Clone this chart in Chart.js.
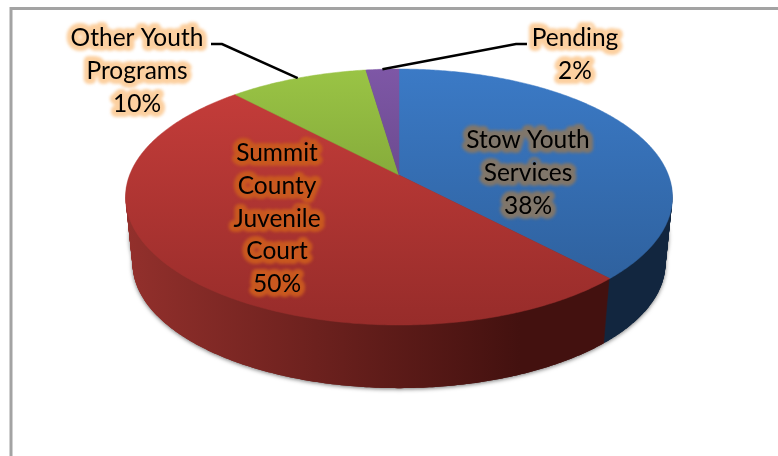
<!DOCTYPE html>
<html>
<head>
<meta charset="utf-8">
<script src="https://cdn.jsdelivr.net/npm/chart.js@4"></script>
<style>
  html, body { margin: 0; background: #fff; }
  canvas { display: block; }
</style>
</head>
<body>
<canvas id="chart" width="778" height="456"></canvas>
<script>
const categories = ['Stow Youth Services', 'Summit County Juvenile Court', 'Other Youth Programs', 'Pending'];
const shares = [38, 50, 9.7, 2.3];
const labelLines = [
  ['Stow Youth', 'Services', '38%'],
  ['Summit', 'County', 'Juvenile', 'Court', '50%'],
  ['Other Youth', 'Programs', '10%'],
  ['Pending', '2%']
];

// gradient stops for the top face (back to front) and the side wall (left to right)
const topColours = [
  ['#3b7aC6', '#2c5c96'],
  ['#c83e3b', '#972c2a'],
  ['#9ac445', '#6a8a2d'],
  ['#7e57a6', '#523a70']
];
const wallColours = [
  ['#12263f', '#12263f'],
  ['#93302c', '#43110f'],
  ['#4c6120', '#4c6120'],
  ['#3a2850', '#3a2850']
];
const haloColours = ['#80766a', '#c9581f', '#fcd0a0', '#fcd0a0'];

// where each label block is centred, and the elbow of its leader line if it has one
const labelBoxes = [
  { x: 528, y: 140 },
  { x: 277, y: 153 },
  { x: 137, y: 38 },
  { x: 575, y: 38 }
];
const leaderElbows = [null, null, [[222, 44], [211, 44]], [[516, 44], [527, 44]]];

// perspective of the pie: the disc is a plane seen from above, so it stays a projected circle
const topRing = { x: 399, y: 175, a: 124.2, b: 269.4, k: 0.172 };
const bottomRing = { x: 399, y: 242, a: 121, b: 262.5, k: 0.172 };

function ringAt(t) {
  return {
    x: topRing.x,
    y: topRing.y + (bottomRing.y - topRing.y) * t,
    a: topRing.a + (bottomRing.a - topRing.a) * t,
    b: topRing.b + (bottomRing.b - topRing.b) * t,
    k: topRing.k
  };
}

function project(ring, angle) {
  const u = Math.cos(angle);
  const v = Math.sin(angle);
  const w = 1 - ring.k * v;
  return [ring.x + ring.b * u / w, ring.y + ring.a * v / w];
}

function traceSlice(ctx, ring, arc) {
  ctx.beginPath();
  ctx.moveTo(ring.x, ring.y);
  const steps = Math.ceil((arc.endAngle - arc.startAngle) / 0.01);
  for (let i = 0; i <= steps; i++) {
    const p = project(ring, arc.startAngle + (arc.endAngle - arc.startAngle) * i / steps);
    ctx.lineTo(p[0], p[1]);
  }
  ctx.closePath();
}

const pie3d = {
  id: 'pie3d',
  // chart.js works out the slice angles, this just paints them tilted
  beforeDatasetDraw(chart) {
    const ctx = chart.ctx;
    const arcs = chart.getDatasetMeta(0).data;
    ctx.save();

    ctx.fillStyle = '#fff';
    ctx.fillRect(0, 0, chart.width, chart.height);

    // frame runs off the right and bottom of the picture
    ctx.strokeStyle = '#a3a3a3';
    ctx.lineWidth = 3;
    ctx.strokeRect(11, 8.5, chart.width + 20, chart.height + 20);

    const walls = wallColours.map(c => {
      const g = ctx.createLinearGradient(125, 0, 520, 0);
      g.addColorStop(0, c[0]);
      g.addColorStop(1, c[1]);
      return g;
    });

    // soft edge under the wall
    ctx.save();
    ctx.shadowColor = 'rgba(0,0,0,0.55)';
    ctx.shadowBlur = 4;
    ctx.shadowOffsetY = 1;
    [1, 0.6].forEach(t => {
      arcs.forEach((arc, i) => {
        ctx.fillStyle = walls[i];
        traceSlice(ctx, ringAt(t), arc);
        ctx.fill();
      });
    });
    ctx.restore();

    // wall: stack the disc from the bottom up
    for (let d = 64; d > 0; d--) {
      const ring = ringAt(d / 64);
      arcs.forEach((arc, i) => {
        ctx.fillStyle = walls[i];
        traceSlice(ctx, ring, arc);
        ctx.fill();
      });
    }

    arcs.forEach((arc, i) => {
      const g = ctx.createLinearGradient(0, 69, 0, 325);
      g.addColorStop(0, topColours[i][0]);
      g.addColorStop(1, topColours[i][1]);
      ctx.fillStyle = g;
      ctx.strokeStyle = g;
      ctx.lineWidth = 0.5;
      traceSlice(ctx, topRing, arc);
      ctx.fill();
      ctx.stroke();
    });

    ctx.restore();
    return false;
  },
  afterDatasetsDraw(chart) {
    const ctx = chart.ctx;
    const arcs = chart.getDatasetMeta(0).data;
    ctx.save();

    // leader lines start at the middle of the slice's rim
    ctx.strokeStyle = '#000';
    ctx.lineWidth = 2.5;
    arcs.forEach((arc, i) => {
      if (!leaderElbows[i]) return;
      const start = project(topRing, (arc.startAngle + arc.endAngle) / 2);
      ctx.beginPath();
      ctx.moveTo(start[0], start[1]);
      leaderElbows[i].forEach(p => ctx.lineTo(p[0], p[1]));
      ctx.stroke();
    });

    ctx.font = '24.5px Lato';
    ctx.textAlign = 'center';
    ctx.textBaseline = 'middle';
    ctx.lineJoin = 'round';
    labelLines.forEach((lines, i) => {
      lines.forEach((line, n) => {
        const y = labelBoxes[i].y + n * 32.8;
        ctx.save();
        ctx.filter = 'blur(1.4px)';
        ctx.strokeStyle = haloColours[i];
        ctx.lineWidth = 10;
        ctx.strokeText(line, labelBoxes[i].x, y);
        ctx.restore();
        ctx.fillStyle = '#000';
        ctx.fillText(line, labelBoxes[i].x, y);
      });
    });
    ctx.restore();
  }
};

new Chart(document.getElementById('chart'), {
  type: 'pie',
  data: {
    labels: categories,
    datasets: [{ data: shares }]
  },
  options: {
    responsive: false,
    animation: false,
    plugins: { legend: { display: false }, tooltip: { enabled: false } }
  },
  plugins: [pie3d]
});
</script>
</body>
</html>
